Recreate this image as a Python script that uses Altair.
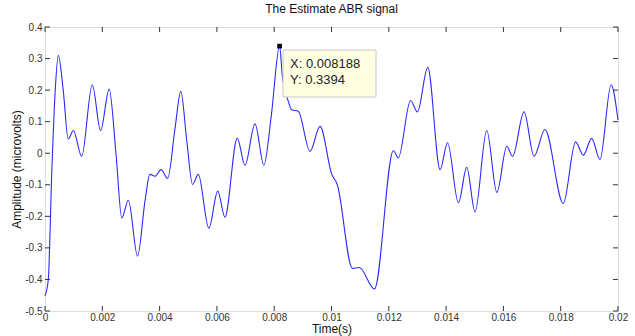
import altair as alt
import pandas as pd

# ---- data ----
time_s = [0.0, 0.000115, 0.000234, 0.000349, 0.000465, 0.00064, 0.00081, 0.00099,
          0.00128, 0.00165, 0.00194, 0.00224, 0.00248, 0.00268, 0.00291, 0.00323,
          0.00349, 0.00366, 0.00384, 0.00405, 0.00428, 0.00454, 0.00474, 0.00495,
          0.00515, 0.00535, 0.00572, 0.00603, 0.00628, 0.00671, 0.00698, 0.00733,
          0.00764, 0.0079, 0.008188, 0.00828, 0.00849, 0.00861, 0.00884, 0.00925,
          0.0096, 0.01001, 0.0102, 0.01073, 0.01097, 0.0115, 0.01216, 0.01233,
          0.01276, 0.013, 0.01336, 0.01379, 0.01405, 0.01443, 0.01472, 0.01501,
          0.01542, 0.01577, 0.01612, 0.01632, 0.01672, 0.01707, 0.01745, 0.01809,
          0.01852, 0.01879, 0.01908, 0.01937, 0.01976, 0.02]
amplitude = [-0.452, -0.40, -0.067, 0.186, 0.31, 0.196, 0.045, 0.072,
             -0.01, 0.217, 0.072, 0.203, -0.004, -0.205, -0.149, -0.326,
             -0.152, -0.067, -0.073, -0.052, -0.08, 0.08, 0.196, 0.038,
             -0.099, -0.067, -0.238, -0.12, -0.203, 0.048, -0.038, 0.093,
             -0.038, 0.12, 0.3394, 0.249, 0.165, 0.138, 0.133, 0.006,
             0.085, -0.067, -0.099, -0.365, -0.362, -0.43, 0.008, -0.015,
             0.167, 0.131, 0.272, -0.052, 0.033, -0.157, -0.045, -0.186,
             0.072, -0.124, 0.022, -0.01, 0.131, -0.01, 0.075, -0.159,
             0.036, -0.006, 0.047, -0.02, 0.217, 0.105]

x_ticks = [0, 0.002, 0.004, 0.006, 0.008, 0.01, 0.012, 0.014, 0.016, 0.018, 0.02]
y_ticks = [-0.5, -0.4, -0.3, -0.2, -0.1, 0, 0.1, 0.2, 0.3, 0.4]

tip_x = [0.008188]
tip_y = [0.3394]
tip_lines = ["X: 0.008188", "Y: 0.3394"]

W, H = 573, 284
FONT = "Liberation Sans"

sig = pd.DataFrame({"t": time_s, "v": amplitude})
xt = pd.DataFrame({"t": x_ticks})
yt = pd.DataFrame({"v": y_ticks})

xs = alt.Scale(domain=[0, 0.02], nice=False, zero=False)
ys = alt.Scale(domain=[-0.5, 0.4], nice=False, zero=False)

lab = "replace(format(datum.value, '~g'), '\u2212', '-')"

x_axis = alt.Axis(title="Time(s)", values=x_ticks, labelExpr=lab, ticks=False, domain=False,
                  grid=False, labelFontSize=10, labelColor="#333", labelPadding=1,
                  labelOverlap=False, labelFlush=False, labelBound=False,
                  titleFontSize=12, titleFontWeight="normal", titleColor="#111", titlePadding=1,
                  labelFont=FONT, titleFont=FONT)
y_axis = alt.Axis(title="Amplitude (microvolts)", values=y_ticks, labelExpr=lab, ticks=False,
                  domain=False, grid=False, labelFontSize=10, labelColor="#333", labelPadding=3,
                  labelOverlap=False, labelFlush=False, labelBound=False,
                  titleFontSize=12, titleFontWeight="normal", titleColor="#111", titlePadding=1,
                  labelFont=FONT, titleFont=FONT)

line = alt.Chart(sig).mark_line(color="#2a2aff", strokeWidth=1.1, interpolate="monotone").encode(
    x=alt.X("t:Q", scale=xs, axis=x_axis),
    y=alt.Y("v:Q", scale=ys, axis=y_axis),
)

tick_color = "#333"
xb = alt.Chart(xt).mark_rule(color=tick_color).encode(
    x=alt.X("t:Q", scale=xs, axis=x_axis), y=alt.value(H), y2=alt.value(H - 5))
xtp = alt.Chart(xt).mark_rule(color=tick_color).encode(
    x=alt.X("t:Q", scale=xs, axis=x_axis), y=alt.value(0), y2=alt.value(5))
yl = alt.Chart(yt).mark_rule(color=tick_color).encode(
    y=alt.Y("v:Q", scale=ys, axis=y_axis), x=alt.value(0), x2=alt.value(5))
yr = alt.Chart(yt).mark_rule(color=tick_color).encode(
    y=alt.Y("v:Q", scale=ys, axis=y_axis), x=alt.value(W), x2=alt.value(W - 5))

tipdf = pd.DataFrame({"t": tip_x, "v": tip_y})
box = alt.Chart(tipdf).mark_rect(fill="#ffffe1", stroke="#c9c9c9", strokeWidth=1).encode(
    x=alt.value(238), x2=alt.value(331), y=alt.value(23), y2=alt.value(70)
)
txt1 = alt.Chart(pd.DataFrame({"label": [tip_lines[0]]})).mark_text(
    align="left", baseline="middle", font=FONT, fontSize=13, color="#222").encode(
    text="label:N", x=alt.value(245), y=alt.value(37))
txt2 = alt.Chart(pd.DataFrame({"label": [tip_lines[1]]})).mark_text(
    align="left", baseline="middle", font=FONT, fontSize=13, color="#222").encode(
    text="label:N", x=alt.value(245), y=alt.value(53))
marker = alt.Chart(tipdf).mark_square(color="black", size=22, opacity=1).encode(
    x=alt.X("t:Q", scale=xs, axis=x_axis), y=alt.Y("v:Q", scale=ys, axis=y_axis)
)

chart = alt.layer(line, xb, xtp, yl, yr, box, txt1, txt2, marker).properties(
    width=W, height=H,
    title=alt.TitleParams("The Estimate ABR signal", fontSize=12, fontWeight="normal", font=FONT,
                          color="#111", offset=6, anchor="middle"),
    padding={"left": 45, "top": 27, "right": 17, "bottom": 25},
    autosize="none",
).configure_view(stroke="#444", strokeWidth=1).configure_axis(
    labelOverlap=False
).configure(background="white")

chart.save("out.html", embed_options={"renderer": "svg", "actions": False})
